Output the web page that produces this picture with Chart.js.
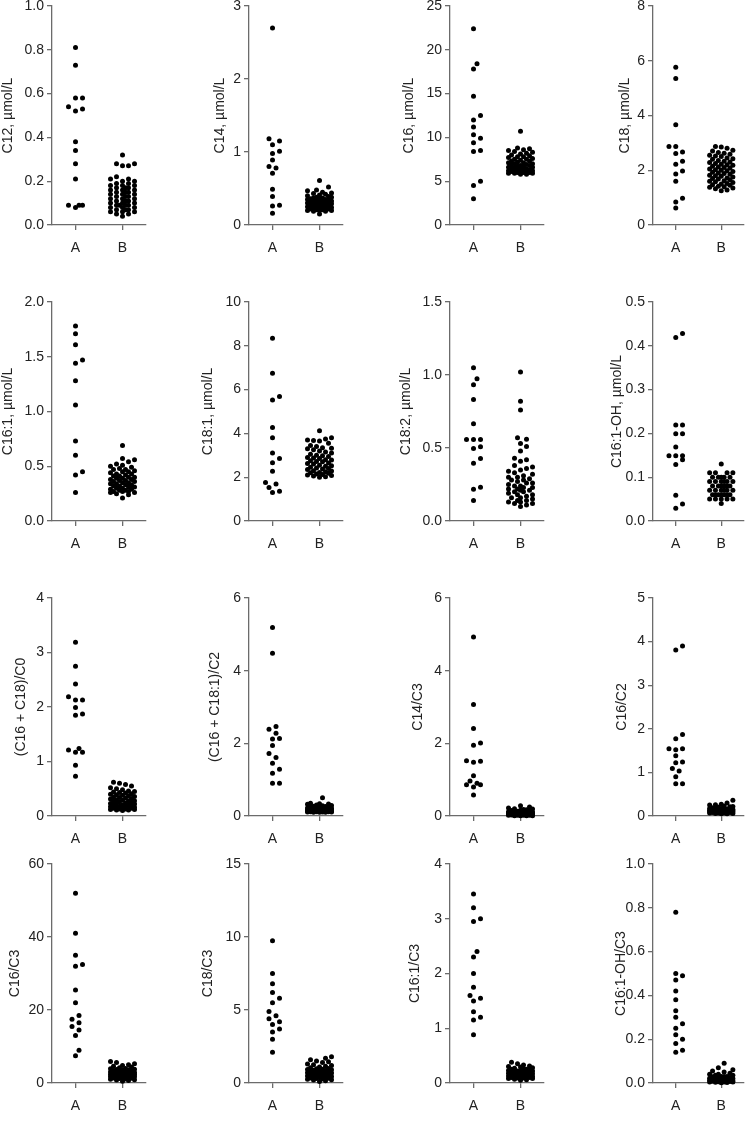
<!DOCTYPE html>
<html>
<head>
<meta charset="utf-8">
<script src="https://cdn.jsdelivr.net/npm/chart.js@4.4.0/dist/chart.umd.min.js"></script>
<style>
  body { margin: 0; background: #fff; }
  #wrap { position: relative; width: 748px; height: 1140px; overflow: hidden; }
  #wrap canvas { position: absolute; }
</style>
</head>
<body>
<div id="wrap"></div>
<script>
// ---- data ----
const groups = ["A", "B"];
const titles = ["C12, µmol/L", "C14, µmol/L", "C16, µmol/L", "C18, µmol/L",
  "C16:1, µmol/L", "C18:1, µmol/L", "C18:2, µmol/L", "C16:1-OH, µmol/L",
  "(C16 + C18)/C0", "(C16 + C18:1)/C2", "C14/C3", "C16/C2",
  "C16/C3", "C18/C3", "C16:1/C3", "C16:1-OH/C3"];
const yMax = [1, 3, 25, 8, 2, 10, 1.5, 0.5, 4, 6, 6, 5, 60, 15, 4, 1];
const yStep = [0.2, 1, 5, 2, 0.5, 2, 0.5, 0.1, 1, 2, 2, 1, 20, 5, 1, 0.2];
const yDecimals = [1, 0, 0, 0, 1, 0, 1, 1, 0, 0, 0, 0, 0, 0, 0, 1];

const c12A = [0.81, 0.73, 0.58, 0.58, 0.54, 0.53, 0.52, 0.38, 0.34, 0.28, 0.21, 0.09, 0.08, 0.09, 0.09];
const c12B = [0.32, 0.28, 0.28, 0.27, 0.27, 0.22, 0.21, 0.21, 0.20, 0.20, 0.19, 0.19, 0.18, 0.18, 0.18, 0.17, 0.17, 0.17, 0.16, 0.16, 0.16, 0.15, 0.15, 0.15, 0.14, 0.14, 0.14, 0.13, 0.13, 0.13, 0.12, 0.12, 0.12, 0.11, 0.11, 0.11, 0.10, 0.10, 0.10, 0.09, 0.09, 0.09, 0.09, 0.08, 0.08, 0.08, 0.07, 0.07, 0.07, 0.06, 0.06, 0.06, 0.05, 0.05, 0.04];
const c14A = [2.70, 1.18, 1.15, 1.10, 0.98, 1.01, 0.89, 0.80, 0.78, 0.71, 0.49, 0.39, 0.27, 0.26, 0.16];
const c14B = [0.61, 0.52, 0.48, 0.47, 0.45, 0.44, 0.43, 0.42, 0.41, 0.40, 0.39, 0.38, 0.38, 0.37, 0.37, 0.36, 0.36, 0.35, 0.35, 0.34, 0.34, 0.33, 0.33, 0.32, 0.32, 0.31, 0.31, 0.30, 0.30, 0.30, 0.29, 0.29, 0.28, 0.28, 0.27, 0.27, 0.26, 0.26, 0.25, 0.25, 0.24, 0.24, 0.23, 0.23, 0.22, 0.22, 0.21, 0.21, 0.20, 0.20, 0.20, 0.19, 0.19, 0.15];
const c16A = [22.4, 18.4, 17.8, 14.7, 12.5, 12.0, 11.2, 10.3, 9.9, 9.4, 8.5, 8.4, 5.0, 4.5, 3.0];
const c16B = [10.7, 8.8, 8.7, 8.6, 8.5, 8.4, 8.3, 8.2, 8.1, 8.0, 7.9, 7.8, 7.8, 7.7, 7.6, 7.5, 7.5, 7.4, 7.3, 7.3, 7.2, 7.1, 7.1, 7.0, 7.0, 6.9, 6.9, 6.8, 6.8, 6.7, 6.7, 6.6, 6.6, 6.5, 6.5, 6.4, 6.4, 6.3, 6.3, 6.3, 6.2, 6.2, 6.2, 6.1, 6.1, 6.1, 6.0, 6.0, 6.0, 5.9, 5.9, 5.9, 5.8, 5.8];
const c18A = [5.76, 5.35, 3.66, 2.87, 2.87, 2.67, 2.61, 2.33, 2.22, 1.97, 1.86, 1.60, 0.98, 0.84, 0.62];
const c18B = [2.87, 2.85, 2.80, 2.73, 2.70, 2.65, 2.62, 2.58, 2.55, 2.52, 2.50, 2.45, 2.42, 2.40, 2.36, 2.33, 2.30, 2.28, 2.25, 2.22, 2.20, 2.18, 2.15, 2.12, 2.10, 2.08, 2.05, 2.02, 2.00, 1.98, 1.95, 1.93, 1.90, 1.88, 1.85, 1.82, 1.80, 1.78, 1.75, 1.72, 1.70, 1.68, 1.65, 1.62, 1.60, 1.58, 1.55, 1.52, 1.50, 1.47, 1.45, 1.42, 1.40, 1.38, 1.35, 1.32, 1.28, 1.25];
const c161A = [1.78, 1.71, 1.61, 1.47, 1.44, 1.28, 1.06, 0.73, 0.60, 0.45, 0.42, 0.26];
const c161B = [0.69, 0.57, 0.56, 0.54, 0.52, 0.51, 0.50, 0.49, 0.48, 0.47, 0.47, 0.46, 0.45, 0.45, 0.44, 0.43, 0.43, 0.42, 0.41, 0.41, 0.40, 0.40, 0.39, 0.39, 0.38, 0.38, 0.37, 0.37, 0.36, 0.36, 0.35, 0.35, 0.34, 0.34, 0.33, 0.33, 0.32, 0.32, 0.31, 0.31, 0.30, 0.30, 0.29, 0.29, 0.28, 0.28, 0.27, 0.27, 0.27, 0.26, 0.26, 0.25, 0.24, 0.21];
const c181A = [8.35, 6.75, 5.68, 5.53, 4.27, 3.80, 3.11, 2.85, 2.66, 2.27, 1.76, 1.69, 1.53, 1.30, 1.36];
const c181B = [4.12, 3.80, 3.75, 3.70, 3.68, 3.65, 3.55, 3.45, 3.40, 3.35, 3.32, 3.30, 3.25, 3.20, 3.15, 3.10, 3.05, 3.00, 2.98, 2.95, 2.90, 2.88, 2.85, 2.80, 2.78, 2.75, 2.72, 2.70, 2.65, 2.62, 2.60, 2.55, 2.52, 2.50, 2.45, 2.42, 2.40, 2.38, 2.35, 2.30, 2.28, 2.25, 2.22, 2.20, 2.18, 2.15, 2.12, 2.10, 2.08, 2.05, 2.02, 2.00];
const c182A = [1.05, 0.975, 0.934, 0.833, 0.666, 0.559, 0.559, 0.559, 0.508, 0.497, 0.428, 0.396, 0.231, 0.218, 0.14];
const c182B = [1.02, 0.82, 0.76, 0.57, 0.56, 0.53, 0.51, 0.48, 0.43, 0.42, 0.41, 0.38, 0.37, 0.36, 0.35, 0.34, 0.33, 0.32, 0.31, 0.30, 0.30, 0.29, 0.28, 0.28, 0.27, 0.26, 0.26, 0.25, 0.24, 0.24, 0.23, 0.23, 0.22, 0.22, 0.21, 0.21, 0.20, 0.20, 0.19, 0.18, 0.18, 0.17, 0.16, 0.16, 0.15, 0.14, 0.14, 0.13, 0.13, 0.12, 0.12, 0.11, 0.10];
const c161ohA = [0.428, 0.419, 0.219, 0.219, 0.199, 0.199, 0.169, 0.149, 0.149, 0.149, 0.14, 0.129, 0.059, 0.039, 0.029];
const c161ohB = [0.13, 0.11, 0.11, 0.11, 0.11, 0.10, 0.10, 0.10, 0.10, 0.10, 0.09, 0.09, 0.09, 0.09, 0.09, 0.09, 0.08, 0.08, 0.08, 0.08, 0.08, 0.08, 0.07, 0.07, 0.07, 0.07, 0.07, 0.07, 0.06, 0.06, 0.06, 0.06, 0.06, 0.06, 0.06, 0.05, 0.05, 0.05, 0.05, 0.05, 0.04];
const r16_18_c0A = [3.19, 2.75, 2.42, 2.19, 2.13, 2.13, 1.99, 1.87, 1.85, 1.24, 1.21, 1.17, 1.17, 0.93, 0.73];
const r16_18_c0B = [0.62, 0.60, 0.58, 0.55, 0.52, 0.50, 0.48, 0.46, 0.45, 0.44, 0.43, 0.42, 0.41, 0.40, 0.39, 0.38, 0.37, 0.36, 0.35, 0.34, 0.33, 0.32, 0.31, 0.30, 0.29, 0.28, 0.28, 0.27, 0.26, 0.25, 0.24, 0.23, 0.23, 0.22, 0.21, 0.20, 0.20, 0.19, 0.18, 0.18, 0.17, 0.16, 0.16, 0.15, 0.15, 0.14, 0.14, 0.13, 0.13, 0.12, 0.12, 0.11, 0.11, 0.10];
const r16_181_c2A = [5.19, 4.48, 2.46, 2.39, 2.28, 2.13, 2.12, 1.94, 1.72, 1.61, 1.45, 1.29, 1.18, 0.90, 0.90];
const r16_181_c2B = [0.50, 0.35, 0.34, 0.33, 0.32, 0.30, 0.29, 0.28, 0.27, 0.26, 0.25, 0.24, 0.23, 0.22, 0.22, 0.21, 0.21, 0.20, 0.20, 0.19, 0.19, 0.18, 0.18, 0.17, 0.17, 0.17, 0.16, 0.16, 0.16, 0.15, 0.15, 0.15, 0.14, 0.14, 0.14, 0.13, 0.13, 0.13, 0.12, 0.12, 0.12, 0.11, 0.11, 0.11, 0.10, 0.10, 0.10];
const c14c3A = [4.93, 3.07, 2.41, 2.01, 1.95, 1.51, 1.52, 1.48, 1.11, 0.96, 0.90, 0.86, 0.86, 0.80, 0.58];
const c14c3B = [0.28, 0.25, 0.22, 0.20, 0.19, 0.18, 0.17, 0.16, 0.15, 0.14, 0.13, 0.12, 0.12, 0.11, 0.11, 0.10, 0.10, 0.09, 0.09, 0.09, 0.08, 0.08, 0.08, 0.07, 0.07, 0.07, 0.06, 0.06, 0.06, 0.06, 0.05, 0.05, 0.05, 0.05, 0.04, 0.04, 0.04, 0.04, 0.03, 0.03, 0.03, 0.03, 0.02, 0.02, 0.02, 0.02, 0.01, 0.01, 0.01, 0.01];
const c16c2A = [3.90, 3.81, 1.87, 1.77, 1.52, 1.54, 1.54, 1.38, 1.24, 1.22, 1.09, 1.03, 0.90, 0.74, 0.74];
const c16c2B = [0.36, 0.30, 0.27, 0.26, 0.25, 0.23, 0.22, 0.21, 0.20, 0.19, 0.18, 0.17, 0.17, 0.16, 0.16, 0.15, 0.15, 0.15, 0.14, 0.14, 0.14, 0.13, 0.13, 0.13, 0.12, 0.12, 0.12, 0.12, 0.11, 0.11, 0.11, 0.11, 0.10, 0.10, 0.10, 0.10, 0.09, 0.09, 0.09, 0.09, 0.08, 0.08, 0.08, 0.07, 0.07, 0.07, 0.06, 0.06, 0.05, 0.05];
const c16c3A = [52, 41, 35, 32.5, 32, 25.5, 22, 18.5, 17.5, 16.5, 15.5, 14.5, 13, 9, 7.5];
const c16c3B = [5.9, 5.6, 5.3, 5.0, 4.8, 4.6, 4.4, 4.2, 4.0, 3.9, 3.8, 3.7, 3.6, 3.5, 3.4, 3.3, 3.2, 3.1, 3.0, 2.9, 2.8, 2.8, 2.7, 2.6, 2.5, 2.5, 2.4, 2.3, 2.3, 2.2, 2.1, 2.1, 2.0, 1.9, 1.9, 1.8, 1.7, 1.7, 1.6, 1.5, 1.5, 1.4, 1.3, 1.2, 1.1, 1.0, 0.9, 0.8, 0.7, 0.5];
const c18c3A = [9.75, 7.5, 6.8, 6.2, 5.8, 5.5, 4.9, 4.6, 4.4, 4.2, 4.0, 3.7, 3.5, 3.0, 2.1];
const c18c3B = [1.8, 1.7, 1.6, 1.5, 1.45, 1.4, 1.3, 1.25, 1.2, 1.15, 1.1, 1.05, 1.0, 0.98, 0.95, 0.92, 0.9, 0.88, 0.85, 0.82, 0.8, 0.78, 0.75, 0.72, 0.7, 0.68, 0.65, 0.62, 0.6, 0.58, 0.55, 0.52, 0.5, 0.48, 0.45, 0.42, 0.4, 0.38, 0.35, 0.32, 0.3, 0.28, 0.25, 0.22, 0.2, 0.15, 0.1];
const c161c3A = [3.45, 3.2, 3.0, 2.95, 2.4, 2.3, 2.0, 1.75, 1.6, 1.55, 1.5, 1.3, 1.2, 1.15, 0.88];
const c161c3B = [0.38, 0.35, 0.33, 0.31, 0.30, 0.29, 0.28, 0.27, 0.26, 0.25, 0.25, 0.24, 0.23, 0.23, 0.22, 0.22, 0.21, 0.21, 0.20, 0.20, 0.19, 0.19, 0.18, 0.18, 0.17, 0.17, 0.16, 0.16, 0.15, 0.15, 0.14, 0.14, 0.13, 0.13, 0.12, 0.12, 0.11, 0.11, 0.10, 0.10, 0.09, 0.09, 0.08, 0.08, 0.07, 0.06, 0.05];
const c161ohc3A = [0.78, 0.50, 0.49, 0.47, 0.42, 0.38, 0.33, 0.30, 0.27, 0.25, 0.22, 0.20, 0.18, 0.15, 0.14];
const c161ohc3B = [0.09, 0.07, 0.06, 0.055, 0.05, 0.045, 0.04, 0.04, 0.035, 0.035, 0.03, 0.03, 0.03, 0.028, 0.025, 0.025, 0.022, 0.02, 0.02, 0.02, 0.018, 0.016, 0.015, 0.015, 0.014, 0.012, 0.012, 0.01, 0.01, 0.01, 0.009, 0.008, 0.007, 0.006, 0.005, 0.005, 0.004, 0.003, 0.002, 0.001];

const groupA = [c12A, c14A, c16A, c18A, c161A, c181A, c182A, c161ohA,
  r16_18_c0A, r16_181_c2A, c14c3A, c16c2A, c16c3A, c18c3A, c161c3A, c161ohc3A];
const groupB = [c12B, c14B, c16B, c18B, c161B, c181B, c182B, c161ohB,
  r16_18_c0B, r16_181_c2B, c14c3B, c16c2B, c16c3B, c18c3B, c161c3B, c161ohc3B];

// ---- layout (pixels) ----
const cellW = 187, canvasH = 305, lift = 20;
const rowTop = [0, 285, 570, 855];
const axisLeft = [52, 62, 76, 92];
const plotTop = [6, 17, 28, 9];
const plotBottom = [225, 236, 246, 228];
const titleCenter = [[7, 32, 34, 63], [7, 20, 31, 55], [20, 27, 43, 60], [14, 20, 40, 59]];
const plotW = 94, xAxisH = 30;
const axisColor = "#6b6b6b", textColor = "#222";
const font = { family: "'Liberation Sans', Arial, sans-serif", size: 14 };

// simple beeswarm: offsets in pixels so dots sit side by side
function swarm(values, pxY, maxOff, step) {
  const D = 6;
  const order = values.map((v, i) => i).sort((a, b) => values[a] - values[b]);
  const placed = [];
  const offs = new Array(values.length);
  order.forEach(i => {
    const y = values[i] * pxY;
    let best = 0, bestD = -1, done = false;
    for (let k = 0; k * step <= maxOff && !done; k++) {
      const cands = k === 0 ? [0] : [k * step, -k * step];
      for (const x of cands) {
        let md = Infinity;
        placed.forEach(p => { const d = Math.hypot(p.x - x, p.y - y); if (d < md) md = d; });
        if (md >= D) { best = x; done = true; break; }
        if (md > bestD) { bestD = md; best = x; }
      }
    }
    placed.push({ x: best, y: y });
    offs[i] = best;
  });
  return offs;
}

const wrap = document.getElementById("wrap");
for (let i = 0; i < 16; i++) {
  const r = Math.floor(i / 4), c = i % 4;
  const cv = document.createElement("canvas");
  cv.width = cellW; cv.height = canvasH;
  cv.style.left = (c * cellW) + "px";
  cv.style.top = (rowTop[r] - lift) + "px";
  wrap.appendChild(cv);

  const padLeft = Math.max(0, titleCenter[r][c] - 7.2);
  const padRight = cellW - axisLeft[c] - plotW;
  const padTop = plotTop[r] + lift;
  const padBottom = canvasH - xAxisH - (plotBottom[r] + lift);
  const plotH = plotBottom[r] - plotTop[r];
  const pxY = plotH / yMax[i];
  const pxX = plotW / 2;

  const sets = [groupA[i], groupB[i]].map((vals, g) => {
    const offs = g === 0 ? swarm(vals, pxY, 8, 3.5) : swarm(vals, pxY, 14, 3);
    return {
      data: vals.map((v, k) => ({ x: g + 1 + offs[k] / pxX, y: v })),
      pointRadius: 2.5,
      pointBackgroundColor: "#000",
      pointBorderWidth: 0,
      showLine: false,
      clip: false
    };
  });

  new Chart(cv, {
    type: "scatter",
    data: { datasets: sets },
    options: {
      responsive: false,
      animation: false,
      layout: { padding: { left: padLeft, right: padRight, top: padTop, bottom: padBottom } },
      plugins: { legend: { display: false }, tooltip: { enabled: false } },
      scales: {
        x: {
          type: "linear", min: 0.5, max: 2.5,
          afterBuildTicks: s => { s.ticks = [{ value: 1 }, { value: 2 }]; },
          afterFit: s => { s.height = xAxisH; },
          ticks: { callback: v => groups[v - 1], font: font, color: textColor, padding: 10, maxRotation: 0, autoSkip: false },
          grid: { drawOnChartArea: false, drawTicks: true, tickLength: 5, color: axisColor, lineWidth: 1.3 },
          border: { color: axisColor, width: 1.3 }
        },
        y: {
          min: 0, max: yMax[i],
          afterFit: s => { s.width = axisLeft[c] - padLeft; },
          ticks: { stepSize: yStep[i], callback: v => v.toFixed(yDecimals[i]), font: font, color: textColor, padding: 3 },
          title: { display: true, text: titles[i], font: font, color: textColor, padding: 0 },
          grid: { drawOnChartArea: false, drawTicks: true, tickLength: 5, color: axisColor, lineWidth: 1.3 },
          border: { color: axisColor, width: 1.3 }
        }
      }
    }
  });
}
</script>
</body>
</html>
